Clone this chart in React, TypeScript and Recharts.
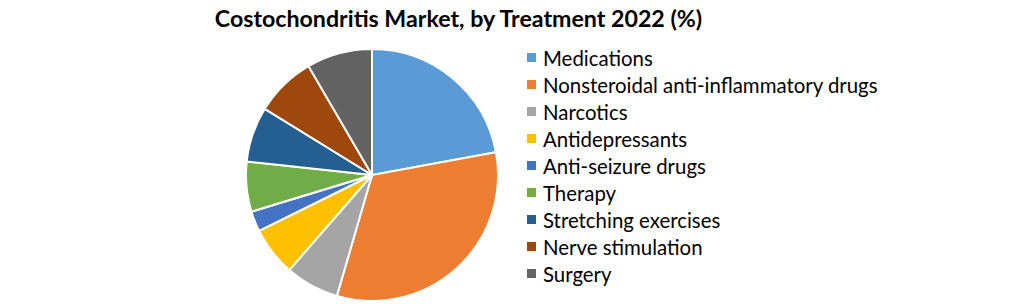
import { PieChart, Pie, Cell } from "recharts";

// Treatment categories, in legend order
const categories = [
  "Medications",
  "Nonsteroidal anti-inflammatory drugs",
  "Narcotics",
  "Antidepressants",
  "Anti-seizure drugs",
  "Therapy",
  "Stretching exercises",
  "Nerve stimulation",
  "Surgery",
];

// Share (%)
const shares = [22.1, 32.4, 6.9, 6.3, 2.6, 6.4, 7.1, 7.8, 8.4];

const colors = [
  "#5B9BD5",
  "#ED7D31",
  "#A5A5A5",
  "#FFC000",
  "#4472C4",
  "#70AD47",
  "#255E91",
  "#9E480E",
  "#636363",
];

const data = categories.map((name, i) => ({ name, value: shares[i] }));

const FONT = "Lato, 'Open Sans', sans-serif";

function LegendList() {
  return (
    <ul
      style={{
        position: "absolute",
        left: 527,
        top: 44,
        listStyle: "none",
        margin: 0,
        padding: 0,
      }}
    >
      {categories.map((name, i) => (
        <li
          key={name}
          style={{
            display: "flex",
            alignItems: "center",
            height: 27,
            fontSize: 20.4,
            color: "#000",
            fontFamily: FONT,
            whiteSpace: "nowrap",
          }}
        >
          <span
            style={{
              display: "inline-block",
              width: 9,
              height: 9,
              background: colors[i],
              marginRight: 7,
            }}
          />
          {name}
        </li>
      ))}
    </ul>
  );
}

export default function App() {
  return (
    <div
      style={{
        position: "absolute",
        left: 0,
        top: 0,
        width: 1021,
        height: 304,
        background: "#fff",
        overflow: "hidden",
      }}
    >
      <div
        style={{
          position: "absolute",
          left: 0,
          top: 4,
          width: 917,
          textAlign: "center",
          fontFamily: FONT,
          fontWeight: 700,
          fontSize: 23.2,
          color: "#000",
        }}
      >
        Costochondritis Market, by Treatment 2022 (%)
      </div>
      <PieChart width={1021} height={304} margin={{ top: 0, right: 0, bottom: 0, left: 0 }}>
        <Pie
          data={data}
          dataKey="value"
          nameKey="name"
          cx={372}
          cy={175}
          outerRadius={126}
          startAngle={90}
          endAngle={-270}
          stroke="#fff"
          strokeWidth={2}
          isAnimationActive={false}
        >
          {data.map((d, i) => (
            <Cell key={d.name} fill={colors[i]} />
          ))}
        </Pie>
      </PieChart>
      <LegendList />
    </div>
  );
}
